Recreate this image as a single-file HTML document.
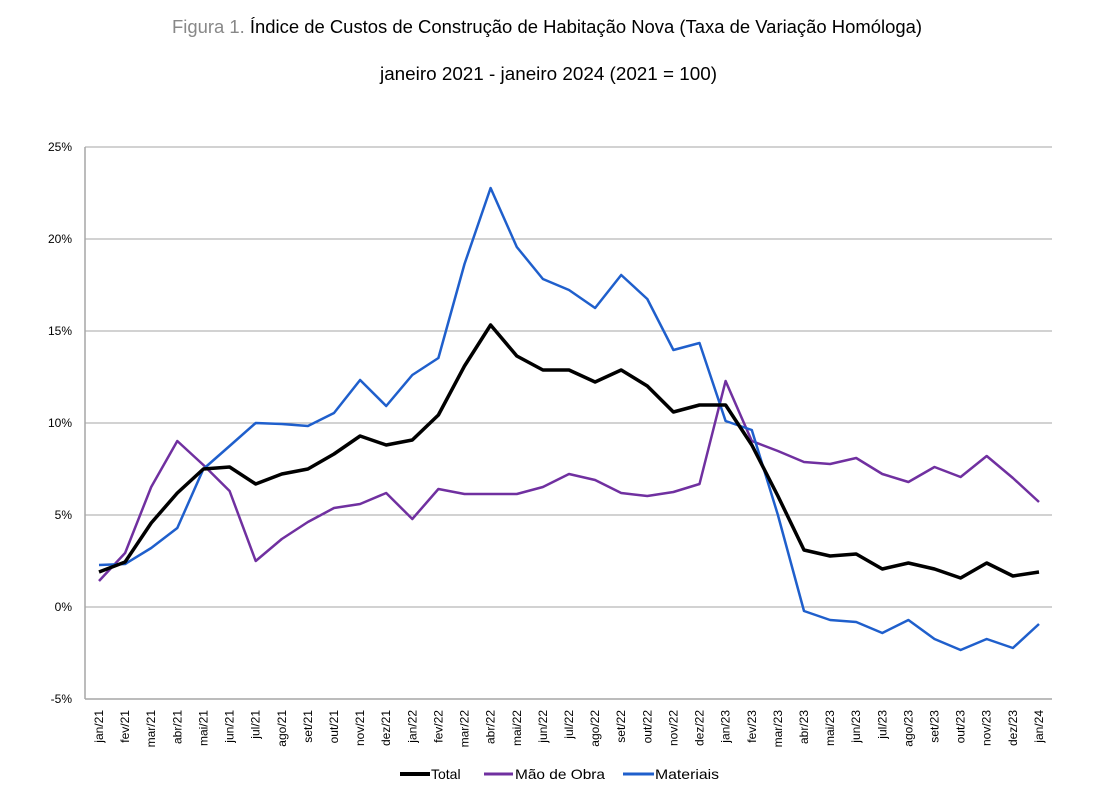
<!DOCTYPE html>
<html><head><meta charset="utf-8"><style>
body{margin:0;background:#fff;width:1115px;height:803px;overflow:hidden;font-family:"Liberation Sans",sans-serif}
</style></head><body>
<svg id="s" width="1115" height="803" xmlns="http://www.w3.org/2000/svg" font-family="Liberation Sans, sans-serif">
<text x="172" y="33" font-size="18" fill="#000" textLength="750" lengthAdjust="spacingAndGlyphs"><tspan fill="#888">Figura 1.</tspan> Índice de Custos de Construção de Habitação Nova (Taxa de Variação Homóloga)</text>
<text x="380" y="80" font-size="18" fill="#000" textLength="337" lengthAdjust="spacingAndGlyphs">janeiro 2021 - janeiro 2024 (2021 = 100)</text>
<g id="g"></g>
<g font-size="14" fill="#000">
<line x1="400" y1="774" x2="430" y2="774" stroke="#000" stroke-width="4"/><text x="431" y="779">Total</text>
<line x1="484" y1="774" x2="513" y2="774" stroke="#7030A0" stroke-width="3"/><text x="515" y="779" textLength="90" lengthAdjust="spacingAndGlyphs">Mão de Obra</text>
<line x1="623" y1="774" x2="654" y2="774" stroke="#1F5FCC" stroke-width="3"/><text x="655" y="779" textLength="64" lengthAdjust="spacingAndGlyphs">Materiais</text>
</g>
</svg>
<script>
var g=document.getElementById('g'),h='';
var yl=[[147,'25%'],[239,'20%'],[331,'15%'],[423,'10%'],[515,'5%'],[607,'0%'],[699,'-5%']];
yl.forEach(function(a){if(a[0]<699)h+='<line x1="85" x2="1052" y1="'+a[0]+'" y2="'+a[0]+'" stroke="#a6a6a6" stroke-width="1"/>';
h+='<text x="72" y="'+(a[0]+4)+'" text-anchor="end" font-size="12">'+a[1]+'</text>';});
h+='<line x1="85" x2="1052" y1="699" y2="699" stroke="#a6a6a6" stroke-width="1.5"/><line x1="85" x2="85" y1="147" y2="699" stroke="#a6a6a6" stroke-width="1.5"/>';
var m=['jan','fev','mar','abr','mai','jun','jul','ago','set','out','nov','dez'];
function X(i){return 99+i*26.11}
for(var i=0;i<37;i++){var lab=m[i%12]+'/'+(21+Math.floor(i/12));
h+='<text transform="translate('+(X(i)+4)+',710) rotate(-90)" text-anchor="end" font-size="12">'+lab+'</text>';}
function P(a,c,w){return '<polyline fill="none" stroke="'+c+'" stroke-width="'+w+'" stroke-linejoin="round" points="'+a.map(function(y,i){return X(i).toFixed(1)+','+y}).join(' ')+'"/>'}
var mo=[581,553,487,441,465,491,561,539,522,508,504,493,519,489,494,494,494,487,474,480,493,496,492,484,381,441,451,462,464,458,474,482,467,477,456,478,502];
var ma=[565,564,548,528,469,446,423,424,426,413,380,406,375,358,264,188,247,279,290,308,275,299,350,343,421,430,515,611,620,622,633,620,639,650,639,648,624];
var to=[572,562,523,493,469,467,484,474,469,454,436,445,440,415,366,325,356,370,370,382,370,386,412,405,405,445,496,550,556,554,569,563,569,578,563,576,572];
h+=P(mo,'#7030A0',2.5)+P(ma,'#1F5FCC',2.5)+P(to,'#000',3.5);
g.innerHTML=h;
</script>
</body></html>
